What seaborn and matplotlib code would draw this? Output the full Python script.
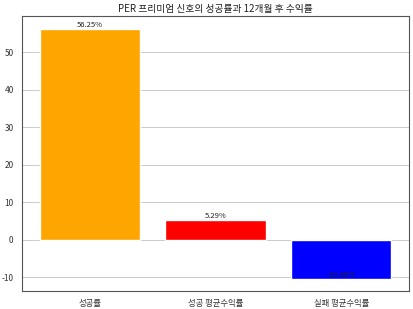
import matplotlib
matplotlib.use("Agg")
import matplotlib.pyplot as plt
import seaborn as sns
import pandas as pd

categories = ["성공률", "성공 평균수익률", "실패 평균수익률"]
values = [56.25, 5.29, -10.40]
colors = ["orange", "red", "blue"]
title = "PER 프리미엄 신호의 성공률과 12개월 후 수익률"

sns.set_style("white")
plt.rcParams['font.family'] = ['Noto Sans CJK KR', 'DejaVu Sans']
plt.rcParams['axes.unicode_minus'] = False

df = pd.DataFrame({"cat": categories, "val": values})

fig, ax = plt.subplots(figsize=(4.14, 3.09), dpi=100)
sns.barplot(data=df, x="cat", y="val", hue="cat", palette=colors, legend=False,
            ax=ax, width=0.8, saturation=1)
ax.set_xlabel("")
ax.set_ylabel("")
ax.set_title(title, fontsize=7, color='#222222', pad=3)
ax.tick_params(axis='both', labelsize=6, length=2.5, width=0.6, colors='#333333')
ax.yaxis.grid(True, color='#cccccc', linewidth=0.7)
ax.set_axisbelow(True)
for s in ax.spines.values():
    s.set_color('#555555')
    s.set_linewidth(0.8)
lefts = [p.get_x() for p in ax.patches]
rights = [p.get_x() + p.get_width() for p in ax.patches]
lo, hi = min(lefts), max(rights)
pad = 0.05 * (hi - lo)
ax.set_xlim(lo - pad, hi + pad)
ax.margins(y=0.05)
for p, v in zip(ax.patches, values):
    ax.text(p.get_x() + p.get_width() / 2, v, f"{v:.2f}%", ha='center', va='bottom',
            fontsize=5.5, color='#222222')
fig.subplots_adjust(left=0.053, right=0.988, top=0.948, bottom=0.058)
fig.savefig("out.png", dpi=100)
